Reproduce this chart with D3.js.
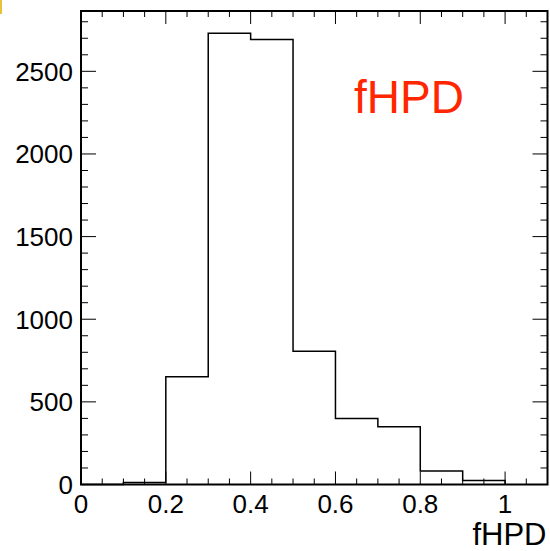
<!DOCTYPE html>
<html>
<head>
<meta charset="utf-8">
<script src="https://cdn.jsdelivr.net/npm/d3@7"></script>
<style>
html,body{margin:0;padding:0;background:#fff;}
svg{display:block;}
text{font-family:"Liberation Sans",Arial,Helvetica,sans-serif;}
</style>
</head>
<body>
<script>
// Data
const binEdges = [0, 0.1, 0.2, 0.3, 0.4, 0.5, 0.6, 0.7, 0.8, 0.9, 1.0];
const binCounts = [0, 12, 652, 2730, 2692, 806, 400, 350, 82, 24];
const xTicks = [0, 0.2, 0.4, 0.6, 0.8, 1];
const xTickLabels = ["0", "0.2", "0.4", "0.6", "0.8", "1"];
const yTicks = [0, 500, 1000, 1500, 2000, 2500];
const yTickLabels = ["0", "500", "1000", "1500", "2000", "2500"];
const xDomain = [0, 1.1];
const yDomain = [0, 2865];
const titleText = "fHPD";
const xAxisTitle = "fHPD";

const W = 550, H = 551;
const L = 81, R = 547.5, T = 11, B = 484.5;

const svg = d3.select("body").append("svg").attr("width", W).attr("height", H);

svg.append("rect").attr("x", 0).attr("y", 0).attr("width", 2).attr("height", 14).attr("fill", "#e8c23a");

const x = d3.scaleLinear().domain(xDomain).range([L, R]);
const y = d3.scaleLinear().domain(yDomain).range([B, T]);

// ticks
const xMinor = d3.range(0, 1.1 + 1e-9, 0.05).map(v => +v.toFixed(2));
const yMinor = d3.range(0, 2865, 100);

const tickG = svg.append("g").attr("stroke", "#000").attr("stroke-width", 1);
xMinor.forEach(v => {
  const major = xTicks.some(t => Math.abs(t - v) < 1e-6);
  const len = major ? 13 : 6;
  const px = x(v);
  tickG.append("line").attr("x1", px).attr("x2", px).attr("y1", B).attr("y2", B - len);
  tickG.append("line").attr("x1", px).attr("x2", px).attr("y1", T).attr("y2", T + len);
});
yMinor.forEach(v => {
  const major = yTicks.includes(v);
  const len = major ? 15 : 7;
  const py = y(v);
  tickG.append("line").attr("x1", L).attr("x2", L + len).attr("y1", py).attr("y2", py);
  tickG.append("line").attr("x1", R).attr("x2", R - len).attr("y1", py).attr("y2", py);
});

// histogram step outline
const pts = [[binEdges[0], 0]];
binCounts.forEach((c, i) => { pts.push([binEdges[i], c]); pts.push([binEdges[i + 1], c]); });
pts.push([binEdges[binEdges.length - 1], 0]);
const line = d3.line().x(d => x(d[0])).y(d => y(d[1]));
svg.append("path").attr("d", line(pts)).attr("fill", "none").attr("stroke", "#000").attr("stroke-width", 1.5);

// frame
svg.append("rect").attr("x", L).attr("y", T).attr("width", R - L).attr("height", B - T)
  .attr("fill", "none").attr("stroke", "#000").attr("stroke-width", 2);

// tick labels
svg.append("g").selectAll("text").data(xTicks).join("text")
  .attr("x", d => x(d)).attr("y", B + 28).attr("text-anchor", "middle")
  .attr("font-size", 26).attr("fill", "#000")
  .text((d, i) => xTickLabels[i]);
svg.append("g").selectAll("text").data(yTicks).join("text")
  .attr("x", L - 8).attr("y", d => y(d)).attr("dy", "0.36em").attr("text-anchor", "end")
  .attr("font-size", 26).attr("fill", "#000")
  .text((d, i) => yTickLabels[i]);

// axis title
svg.append("text").attr("x", R - 1).attr("y", 545).attr("text-anchor", "end")
  .attr("font-size", 31).attr("fill", "#000").text(xAxisTitle);

// red label
svg.append("text").attr("x", 354).attr("y", 112.5).attr("font-size", 46)
  .attr("fill", "#ff2600").text(titleText);
</script>
</body>
</html>
